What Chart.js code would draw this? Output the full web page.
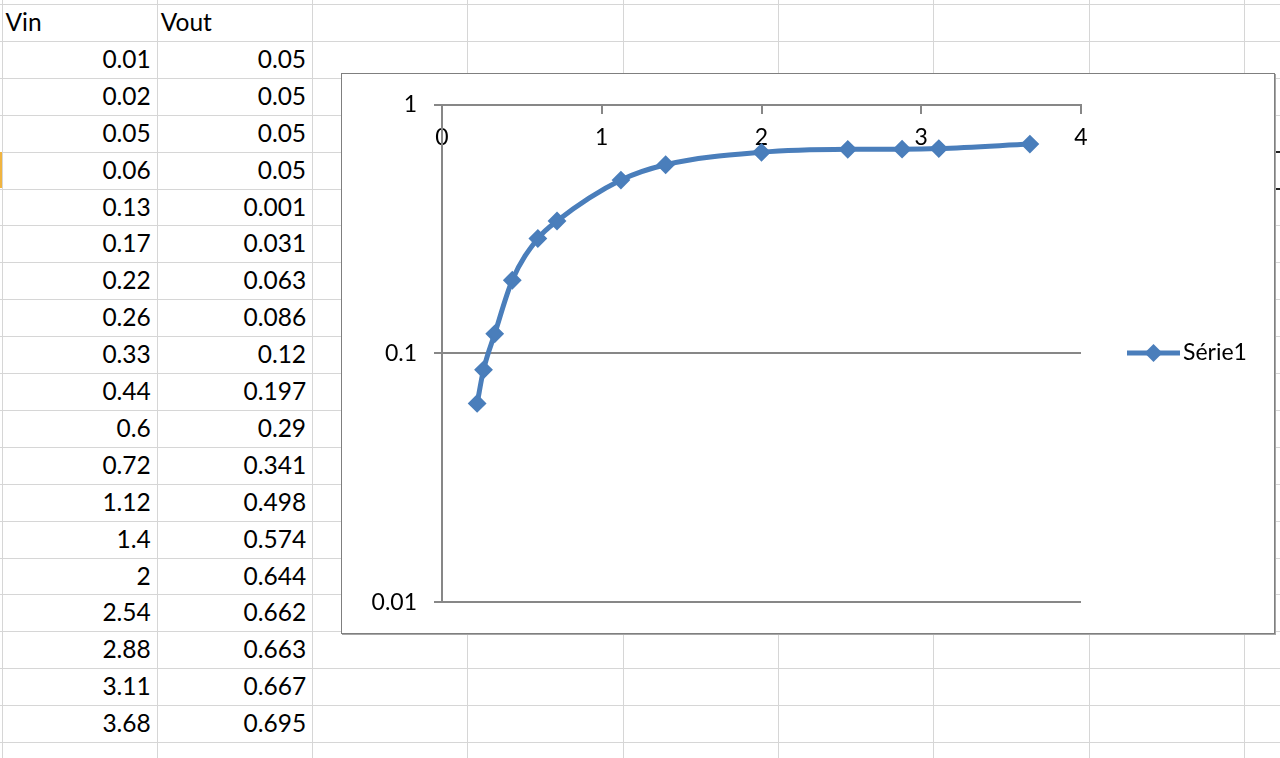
<!DOCTYPE html>
<html lang="fr">

<head>
    <meta charset="utf-8">
    <title>Vin / Vout</title>
    <script src="https://cdn.jsdelivr.net/npm/chart.js"></script>
    <style>
        body {
            margin: 0;
            padding: 0;
            width: 1280px;
            height: 758px;
            overflow: hidden;
            background-color: #ffffff;
            font-family: 'Lato', 'Noto Sans', sans-serif;
            position: relative;
        }

        /* sheet grid */
        .hline, .vline {
            position: absolute;
            background-color: #d6d6d6;
        }
        .hline { left: 0; width: 1280px; height: 1px; }
        .vline { top: 0; height: 758px; width: 1px; }

        .cell {
            position: absolute;
            height: 36.9px;
            line-height: 36.9px;
            font-size: 24.5px;
            color: #000;
            box-sizing: border-box;
            white-space: nowrap;
        }
        .num { text-align: right; padding-right: 6px; }
        .txt { text-align: left; padding-left: 4px; }

        .chart-box {
            position: absolute;
            left: 341px;
            top: 73px;
            width: 932px;
            height: 559px;
            background: #fff;
            border: 1px solid #7f7f7f;
            box-shadow: 1px 1px 0 #a6a6a6;
        }
        .chart-box canvas { display: block; }
    </style>
</head>

<body>
    <div id="sheet"></div>
    <div class="chart-box">
        <canvas id="vinChart" width="932" height="559"></canvas>
    </div>

    <script>
        // sheet data (columns A and B)
        const headers = ['Vin', 'Vout'];
        const vin = [0.01, 0.02, 0.05, 0.06, 0.13, 0.17, 0.22, 0.26, 0.33, 0.44, 0.6, 0.72, 1.12, 1.4, 2, 2.54, 2.88, 3.11, 3.68];
        const vout = [0.05, 0.05, 0.05, 0.05, 0.001, 0.031, 0.063, 0.086, 0.12, 0.197, 0.29, 0.341, 0.498, 0.574, 0.644, 0.662, 0.663, 0.667, 0.695];

        // the series only uses rows from Vin = 0.22 on
        const firstPlottedRow = 6;
        const seriesName = 'Série1';

        const xTicks = [0, 1, 2, 3, 4];
        const yTicks = [0.01, 0.1, 1];

        // ---- spreadsheet background ----
        const sheet = document.getElementById('sheet');
        const colW = 155.3, rowH = 36.9, x0 = 1.5, y0 = 4;

        for (let c = 0; c < 9; c++) {
            const v = document.createElement('div');
            v.className = 'vline';
            v.style.left = (x0 + c * colW) + 'px';
            sheet.appendChild(v);
        }
        for (let r = 0; r < 21; r++) {
            const h = document.createElement('div');
            h.className = 'hline';
            h.style.top = (y0 + r * rowH) + 'px';
            sheet.appendChild(h);
        }

        function addCell(col, row, text, cls) {
            const d = document.createElement('div');
            d.className = 'cell ' + cls;
            d.style.left = (x0 + col * colW) + 'px';
            d.style.top = (y0 + row * rowH) + 'px';
            d.style.width = colW + 'px';
            d.textContent = text;
            sheet.appendChild(d);
        }
        headers.forEach((h, i) => addCell(i, 0, h, 'txt'));
        vin.forEach((v, i) => addCell(0, i + 1, String(v), 'num'));
        vout.forEach((v, i) => addCell(1, i + 1, String(v), 'num'));

        // little orange row marker on the left and dark dashes at the right edge
        const mark = document.createElement('div');
        mark.style.cssText = 'position:absolute;left:0;width:2px;background:#f0b440;top:' + (y0 + 4 * rowH) + 'px;height:' + rowH + 'px';
        sheet.appendChild(mark);
        [4, 5].forEach(r => {
            const d = document.createElement('div');
            d.style.cssText = 'position:absolute;left:1276px;width:4px;height:2px;background:#222;top:' + (y0 + r * rowH - 1) + 'px';
            sheet.appendChild(d);
        });

        // ---- chart ----
        const points = vin.slice(firstPlottedRow).map((x, i) => ({ x: x, y: vout[firstPlottedRow + i] }));
        const blue = '#4a7ebb';
        const axisGray = '#878787';
        const chartFont = 'Lato, "Noto Sans", sans-serif';

        // legend drawn to the right of the plot, like Excel does
        const sideLegend = {
            id: 'sideLegend',
            afterDraw(chart) {
                const { ctx, chartArea } = chart;
                const ds = chart.data.datasets[0];
                const y = Math.round((chartArea.top + chartArea.bottom) / 2);
                const lx = chartArea.right + 46;
                ctx.save();
                ctx.strokeStyle = ds.borderColor;
                ctx.lineWidth = ds.borderWidth;
                ctx.beginPath();
                ctx.moveTo(lx, y);
                ctx.lineTo(lx + 53, y);
                ctx.stroke();
                const cx = lx + 26.5, r = 9;
                ctx.fillStyle = ds.pointBackgroundColor;
                ctx.beginPath();
                ctx.moveTo(cx, y - r);
                ctx.lineTo(cx + r, y);
                ctx.lineTo(cx, y + r);
                ctx.lineTo(cx - r, y);
                ctx.closePath();
                ctx.fill();
                ctx.fillStyle = '#000';
                ctx.font = '23px ' + chartFont;
                ctx.textBaseline = 'middle';
                ctx.textAlign = 'left';
                ctx.fillText(ds.label, lx + 56, y);
                ctx.restore();
            }
        };

        const ctx = document.getElementById('vinChart').getContext('2d');
        new Chart(ctx, {
            type: 'line',
            data: {
                datasets: [{
                    label: seriesName,
                    data: points,
                    borderColor: blue,
                    borderWidth: 5,
                    backgroundColor: blue,
                    pointStyle: 'rectRot',
                    pointRadius: 8,
                    pointBorderWidth: 2,
                    pointBackgroundColor: blue,
                    pointBorderColor: blue,
                    cubicInterpolationMode: 'monotone',
                    fill: false
                }]
            },
            plugins: [sideLegend],
            options: {
                responsive: false,
                animation: false,
                devicePixelRatio: 1,
                layout: {
                    padding: { left: 0, top: 29, right: 193, bottom: 29 }
                },
                plugins: {
                    legend: { display: false },
                    tooltip: { enabled: false }
                },
                scales: {
                    x: {
                        type: 'linear',
                        position: { y: 1 },   // horizontal axis crosses at 1
                        min: 0,
                        max: 4,
                        afterBuildTicks: s => { s.ticks = xTicks.map(v => ({ value: v })); },
                        ticks: {
                            color: '#000',
                            font: { family: chartFont, size: 23 },
                            padding: 11,
                            maxRotation: 0
                        },
                        grid: {
                            drawOnChartArea: false,
                            drawTicks: true,
                            tickLength: 8,
                            color: axisGray,
                            lineWidth: 2
                        },
                        border: { display: true, color: axisGray, width: 2 }
                    },
                    y: {
                        type: 'logarithmic',
                        min: 0.01,
                        max: 1,
                        afterBuildTicks: s => { s.ticks = yTicks.map(v => ({ value: v })); },
                        afterFit: s => { s.width = 100; },
                        ticks: {
                            color: '#000',
                            font: { family: chartFont, size: 23 },
                            padding: 17,
                            callback: v => String(v)
                        },
                        grid: {
                            color: axisGray,
                            lineWidth: 2,
                            tickLength: 8
                        },
                        border: { display: true, color: axisGray, width: 2 }
                    }
                }
            }
        });
    </script>

</body>

</html>
